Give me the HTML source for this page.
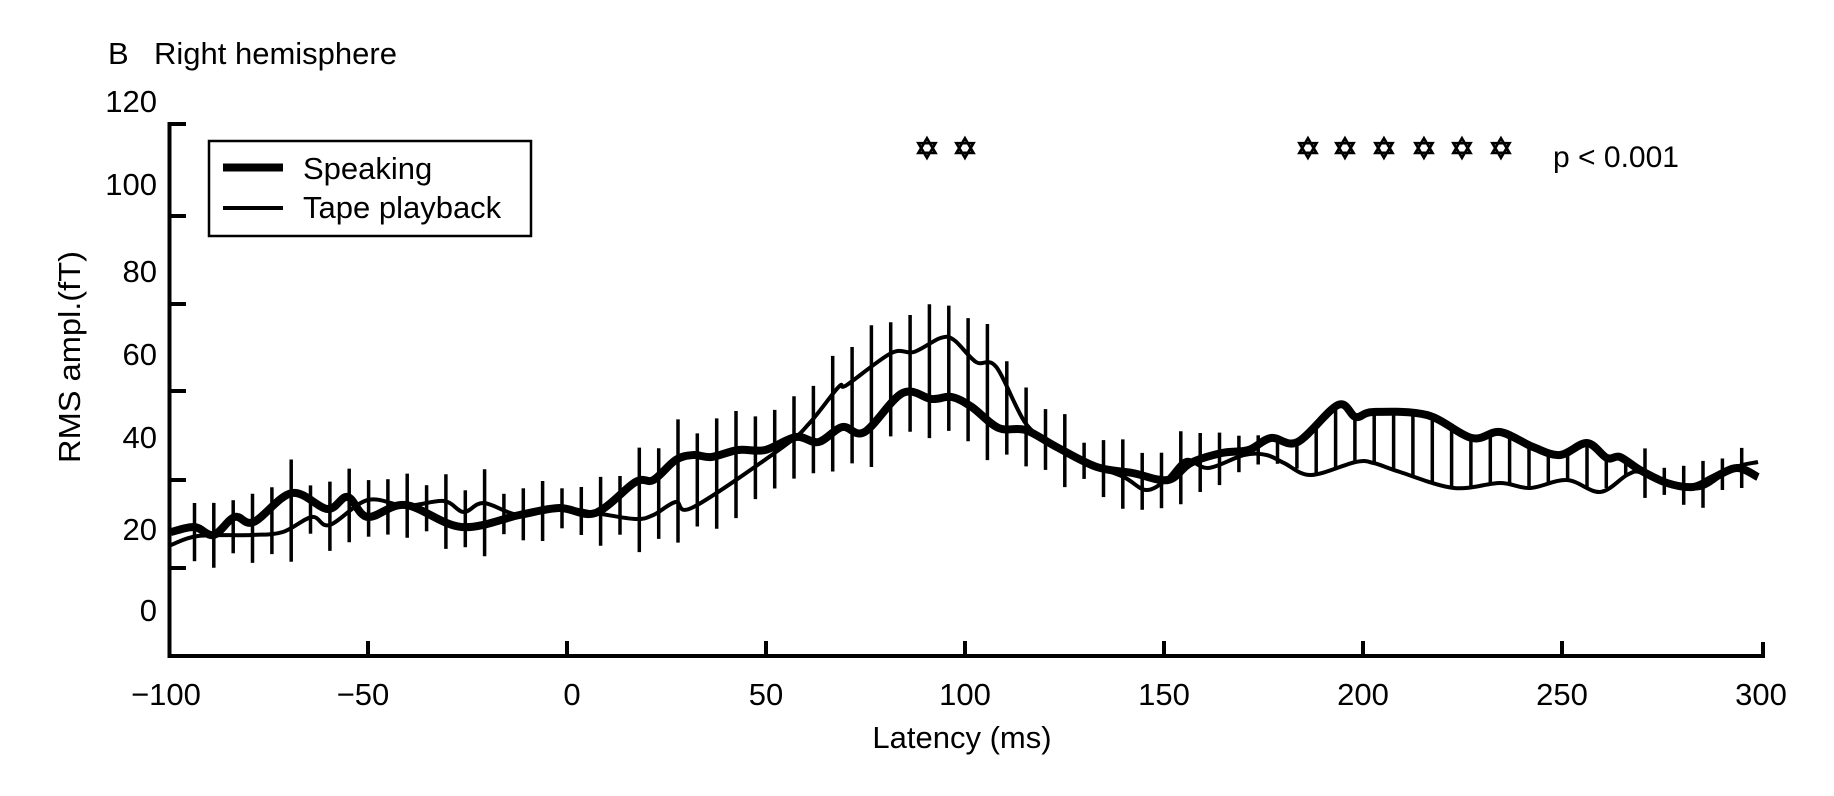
<!DOCTYPE html>
<html><head><meta charset="utf-8"><style>
html,body{margin:0;padding:0;background:#fff;}
svg{display:block;}
text{font-family:"Liberation Sans",Arial,sans-serif;fill:#000;}
</style></head><body>
<svg id="s" width="1834" height="796" viewBox="0 0 1834 796" xmlns="http://www.w3.org/2000/svg">
<text x="108" y="64" font-size="31">B</text>
<text x="154" y="64" font-size="31">Right hemisphere</text>
<g font-size="31" text-anchor="end">
<text x="157" y="112">120</text>
<text x="157" y="195">100</text>
<text x="157" y="282">80</text>
<text x="157" y="365">60</text>
<text x="157" y="448">40</text>
<text x="157" y="540">20</text>
<text x="157" y="621">0</text>
</g>
<text transform="translate(80,357) rotate(-90)" font-size="31" text-anchor="middle" textLength="212" lengthAdjust="spacingAndGlyphs">RMS ampl.(fT)</text>
<g font-size="31" text-anchor="middle">
<text x="166" y="705">−100</text>
<text x="363" y="705">−50</text>
<text x="572" y="705">0</text>
<text x="766" y="705">50</text>
<text x="965" y="705">100</text>
<text x="1164" y="705">150</text>
<text x="1363" y="705">200</text>
<text x="1562" y="705">250</text>
<text x="1761" y="705">300</text>
<text x="962" y="748">Latency (ms)</text>
</g>
<g stroke="#000" stroke-width="4" fill="none">
<path d="M186,124 H169.5 V656 H1763 V642"/>
<path d="M169.5,216 H186 M169.5,304 H186 M169.5,391 H186 M169.5,480 H186 M169.5,568 H186"/>
<path d="M368,656 V641 M567,656 V641 M766,656 V641 M965,656 V641 M1164,656 V641 M1363,656 V641 M1562,656 V641"/>
</g>
<rect x="209" y="141" width="322" height="95" fill="#fff" stroke="#000" stroke-width="2.5"/>
<line x1="223" y1="167.5" x2="283" y2="167.5" stroke="#000" stroke-width="8"/>
<line x1="223" y1="208" x2="283" y2="208" stroke="#000" stroke-width="4"/>
<text x="303" y="179" font-size="31">Speaking</text>
<text x="303" y="218" font-size="31">Tape playback</text>
<g font-size="30" text-anchor="middle" stroke="#000" stroke-width="1.2">
<text x="927" y="159" style="font-family:'DejaVu Sans',sans-serif;font-weight:bold">✡</text>
<text x="965" y="159" style="font-family:'DejaVu Sans',sans-serif;font-weight:bold">✡</text>
<text x="1308" y="159" style="font-family:'DejaVu Sans',sans-serif;font-weight:bold">✡</text>
<text x="1345" y="159" style="font-family:'DejaVu Sans',sans-serif;font-weight:bold">✡</text>
<text x="1384" y="159" style="font-family:'DejaVu Sans',sans-serif;font-weight:bold">✡</text>
<text x="1424" y="159" style="font-family:'DejaVu Sans',sans-serif;font-weight:bold">✡</text>
<text x="1462" y="159" style="font-family:'DejaVu Sans',sans-serif;font-weight:bold">✡</text>
<text x="1501" y="159" style="font-family:'DejaVu Sans',sans-serif;font-weight:bold">✡</text>
</g>
<text x="1553" y="167" font-size="30" textLength="126" lengthAdjust="spacingAndGlyphs">p &lt; 0.001</text>
<g id="data"></g>
</svg>
<script>
(function(){
var NS="http://www.w3.org/2000/svg";
var thick=[[171,532],[194.5,527],[213.7,535],[234.6,517],[253.8,522],[291.8,493],[327.5,509],[347.6,497],[367.7,517],[405.6,505],[461.4,527],[519.5,515],[559.6,508],[595.4,513],[635.5,482],[653.4,480],[675.7,460],[693.6,455],[711.4,457],[738.2,450],[765,450],[796,437],[818.6,442],[842.3,427],[864.6,432],[902.6,393],[931.6,399],[951.7,397],[971.8,407],[998.6,428],[1025.4,430],[1056.6,447],[1096.8,467],[1132.5,473],[1168,480],[1190.5,463],[1221.8,453],[1248.6,450],[1271,438],[1297.7,442],[1337.9,405],[1355.7,417],[1373.6,412],[1427,415],[1471.8,438],[1500,432],[1533,447],[1560,455],[1587,443],[1607,458],[1620,457],[1640,470],[1667,483],[1693,487],[1713,478],[1737,468],[1758,477]];
var thin=[[171,545],[198,536],[251.6,535],[282.9,532],[311.9,517],[329.7,525],[367.7,500],[405.6,506],[443.6,501],[463.7,512],[483.8,503],[519.5,515],[559.6,508],[595.4,513],[635.5,519],[653.4,515],[675.7,502],[693.6,507],[782.9,447],[809.6,423],[838.6,387],[846.8,385],[891.4,353],[913.8,352],[940.5,338],[954,340],[976,362],[996.3,367],[1025.4,423],[1052,443],[1088,463],[1123.6,477],[1145.9,490],[1166,480],[1186,460],[1208.4,468],[1244,455],[1266.4,455],[1284,463],[1311,475],[1355.7,462],[1373.6,463],[1400,472],[1454,488],[1500,483],[1530,488],[1567,480],[1600,492],[1627,475],[1640,472],[1667,482],[1700,488],[1733,468],[1758,462]];
function path(p){var d="M"+p[0][0]+","+p[0][1];for(var i=0;i<p.length-1;i++){var p0=p[Math.max(0,i-1)],p1=p[i],p2=p[i+1],p3=p[Math.min(p.length-1,i+2)];var c1x=p1[0]+(p2[0]-p0[0])/6,c1y=p1[1]+(p2[1]-p0[1])/6,c2x=p2[0]-(p3[0]-p1[0])/6,c2y=p2[1]-(p3[1]-p1[1])/6;d+=" C"+c1x.toFixed(1)+","+c1y.toFixed(1)+" "+c2x.toFixed(1)+","+c2y.toFixed(1)+" "+p2[0]+","+p2[1];}return d;}
function at(p,x){for(var i=0;i<p.length-1;i++){if(x>=p[i][0]&&x<=p[i+1][0]){var t=(x-p[i][0])/(p[i+1][0]-p[i][0]);return p[i][1]+t*(p[i+1][1]-p[i][1]);}}return p[p.length-1][1];}
var v=[0,8,-6,4,-3,10,-8,2,6,-4];
function E(x,j){var r=v[j%10];
if(x<630)return 24+r;
if(x<700)return 30+r;
if(x<1000)return 36+r*0.6;
if(x<1060)return 32+r;
if(x<1200)return 26+r;
if(x<1290)return Math.max(0,(1290-x)*0.3);
if(x<1640)return 0;
return 18+r*0.6;}
var g=document.getElementById("data");
function el(tag,attrs){var e=document.createElementNS(NS,tag);for(var k in attrs){e.setAttribute(k,attrs[k]);}g.appendChild(e);return e;}
for(var i=0;i<=80;i++){var x=194.5+i*19.34;var a=at(thick,x),b=at(thin,x);var e=E(x,i);var top=Math.min(a,b)-e,bot=Math.max(a,b)+e;
el("line",{x1:x.toFixed(1),x2:x.toFixed(1),y1:top.toFixed(1),y2:bot.toFixed(1),stroke:"#000","stroke-width":"3.5"});}
el("path",{d:path(thin),fill:"none",stroke:"#000","stroke-width":"4","stroke-linejoin":"round"});
el("path",{d:path(thick),fill:"none",stroke:"#000","stroke-width":"8","stroke-linejoin":"round"});
})();
</script>
</body></html>
